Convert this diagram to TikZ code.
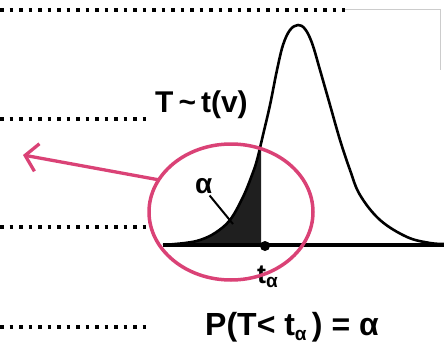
\documentclass[tikz,border=0pt]{standalone}
\usepackage{fontspec}
\setmainfont{Liberation Sans}
\usepackage{tikz}
\usetikzlibrary{arrows.meta, positioning, calc, shapes.geometric}
\definecolor{penpink}{RGB}{218,66,118}
\tikzset{
    % dotted rows of the worksheet
    dotrow/.style={line width=3.6pt, dash pattern=on 3.6pt off 5.9pt},
    % density curve and axis
    density/.style={line width=2.6pt, line join=round},
    axis/.style={line width=3.2pt},
    % labels written on the sheet
    sheet/.style={inner sep=0pt, anchor=base west,
        font=\bfseries\fontsize{30}{34}\selectfont},
    % hand-drawn marker ring and arrow
    ring/.style={ellipse, draw=penpink, line width=3.5pt, outer sep=0pt,
        minimum width=164pt, minimum height=136pt},
    penarrow/.style={draw=penpink, line width=3.3pt,
        -{Straight Barb[length=12pt, width=28pt, line width=3.3pt]}},
    pt/.style={circle, fill=black, inner sep=0pt, minimum size=10pt},
}
\newcommand{\subalpha}{\raisebox{-0.35ex}{\fontsize{19}{19}\selectfont α}}

\begin{document}
\begin{tikzpicture}[x=1pt, y=-1pt]
    \useasboundingbox (0,0) rectangle (444,345);

    % ---- sheet lines ----
    \draw[dotrow] (0,10) -- (345,10);
    \draw[black!20, line width=1pt] (345,10) -- (440,10) -- (440,70);
    \draw[dotrow] (0,119) -- (150,119);
    \draw[dotrow] (0,227) -- (150,227);
    \draw[dotrow] (0,327) -- (150,327);

    % ---- shaded tail ----
    \begin{scope}
        \clip (160,0) rectangle (261,250);
        \fill[black!88] plot[smooth, tension=0.6] coordinates {
            (163,245) (185,243) (200,240) (215,233) (230,220) (243,197)
            (252,175) (257,160) (263,135) (270,105) (277,70) (283,45)
            (290,30) (298,25)} -- (298,245) -- cycle;
    \end{scope}

    % ---- axis and density ----
    \draw[axis] (163,245) -- (444,245);
    \draw[density] plot[smooth, tension=0.6] coordinates {
        (163,245) (185,243) (200,240) (215,233) (230,220) (243,197)
        (252,175) (257,160) (263,135) (270,105) (277,70) (283,45)
        (290,30) (298,25) (305,29) (312,43) (320,70) (330,105)
        (340,140) (350,170) (360,195) (380,220) (407,237) (430,243)
        (444,244)};

    \node[pt] (ta) at (265,246) {};

    % ---- labels ----
    \node[sheet] (dist) at (155,112) {T\,\textasciitilde\,t(v)};
    \node[sheet, font=\bfseries\fontsize{28}{32}\selectfont] (alpha) at (195,193) {α};
    \coordinate (alphaend) at (233,224);
    \draw[line width=2pt] (alpha.south east) ++(-3,2) -- (alphaend);
    \node[sheet, font=\bfseries\fontsize{27}{30}\selectfont] (tlab) at (257,283) {t\subalpha};
    \node[sheet, font=\bfseries\fontsize{32}{36}\selectfont] (prob) at (205,335)
        {P(T< t\subalpha\,) = α};

    % ---- pen marks ----
    \node[ring] (mark) at (231,212) {};
    \coordinate (tip) at (23,155);
    \draw[penarrow] (mark.156) -- (tip);

\end{tikzpicture}
\end{document}
